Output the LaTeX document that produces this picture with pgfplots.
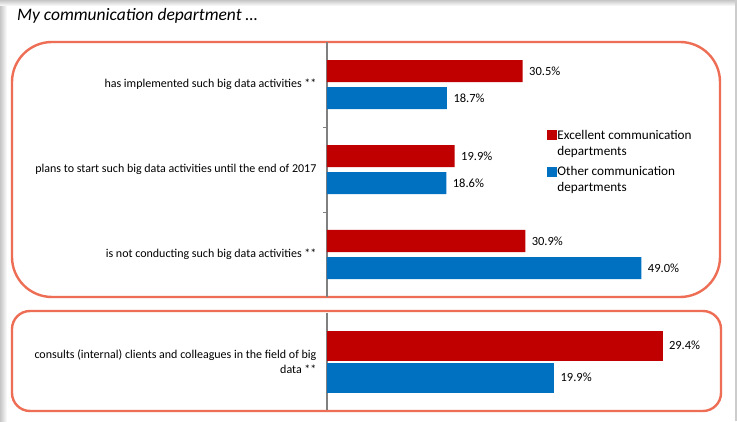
\documentclass[border=0pt]{standalone}
\usepackage{pgfplots}
\pgfplotsset{compat=1.18}
\usepackage{fontspec}
\setmainfont{Carlito}
\definecolor{exred}{HTML}{C00000}
\definecolor{otblue}{HTML}{0070C0}
\definecolor{frame}{HTML}{EE6E55}
\definecolor{axgray}{HTML}{808080}

\begin{document}
\begin{tikzpicture}
% page: 737 x 421 (pt), y measured from the bottom
\fill[white] (0pt,0pt) rectangle (737pt,421pt);
\useasboundingbox (0pt,0pt) rectangle (737pt,421pt);
\shade[left color=gray!45, right color=white] (0pt,0pt) rectangle (7pt,421pt);
\shade[top color=gray!45, bottom color=white] (0pt,415pt) rectangle (737pt,421pt);
\fill[gray!40] (735pt,0pt) rectangle (737pt,421pt);

\node[anchor=base west, inner sep=0pt, font=\fontsize{17.5}{20}\selectfont\itshape] at (17pt,400pt) {My communication department \dots};

\draw[frame, line width=2.4pt, rounded corners=40pt] (12pt,124pt) rectangle (720pt,379pt);
\draw[frame, line width=2.4pt, rounded corners=18pt] (12pt,10pt) rectangle (721pt,110pt);

\pgfplotsset{
  bars/.style={
    xbar, scale only axis,
    xmin=0, axis x line=none,
    axis y line*=left, y axis line style={axgray, line width=1.4pt, -},
    y dir=reverse,
    ytick=data, major tick length=0pt,
    minor tick length=4pt, tick align=outside,
    minor tick style={axgray, line width=0.8pt},
    yticklabel style={align=right, font=\fontsize{12}{15.5}\selectfont, xshift=-7pt},
    nodes near coords={\pgfmathprintnumber[fixed, fixed zerofill, precision=1, assume math mode=true]{\pgfplotspointmeta}\%},
    nodes near coords style={font=\fontsize{12.5}{15}\selectfont, anchor=west, xshift=3pt},
    point meta=explicit,
    clip=false,
  },
}

\begin{axis}[bars,
  at={(327pt,379pt)}, anchor=north west,
  width=385pt, height=255pt, xmax=60,
  ymin=-0.5, ymax=2.5,
  minor ytick={0.5,1.5},
  yticklabels={has implemented such big data activities **,
               plans to start such big data activities until the end of 2017,
               is not conducting such big data activities **},
  bar width=22pt,
  legend style={at={(0.563,0.664)}, anchor=north west, draw=none, fill=none,
    font=\fontsize{13.2}{15.5}\selectfont, row sep=9pt,
    nodes={align=left, anchor=west, inner sep=0.5pt}},
  legend cell align=left,
  legend image code/.code={\fill[#1] (0pt,3pt) rectangle (10pt,13pt);},
]
\addplot[fill=exred, draw=none, bar shift=13.5pt] table[y=cat, x=val, meta=val] {
cat val
0 30.5
1 19.9
2 30.9
};
\addlegendentry{Excellent communication\\departments}
\addplot[fill=otblue, draw=none, bar shift=-13.5pt] table[y=cat, x=val, meta=val] {
cat val
0 18.7
1 18.6
2 49.0
};
\addlegendentry{Other communication\\departments}
\end{axis}

\begin{axis}[bars,
  at={(327pt,108pt)}, anchor=north west,
  width=388pt, height=97pt, xmax=34,
  ymin=-0.5, ymax=0.5,
  yticklabels={consults (internal) clients and colleagues in the field of big\\data **},
  bar width=30pt,
]
\addplot[fill=exred, draw=none, bar shift=16pt] table[y=cat, x=val, meta=val] {
cat val
0 29.4
};
\addplot[fill=otblue, draw=none, bar shift=-16pt] table[y=cat, x=val, meta=val] {
cat val
0 19.9
};
\end{axis}
\end{tikzpicture}
\end{document}
